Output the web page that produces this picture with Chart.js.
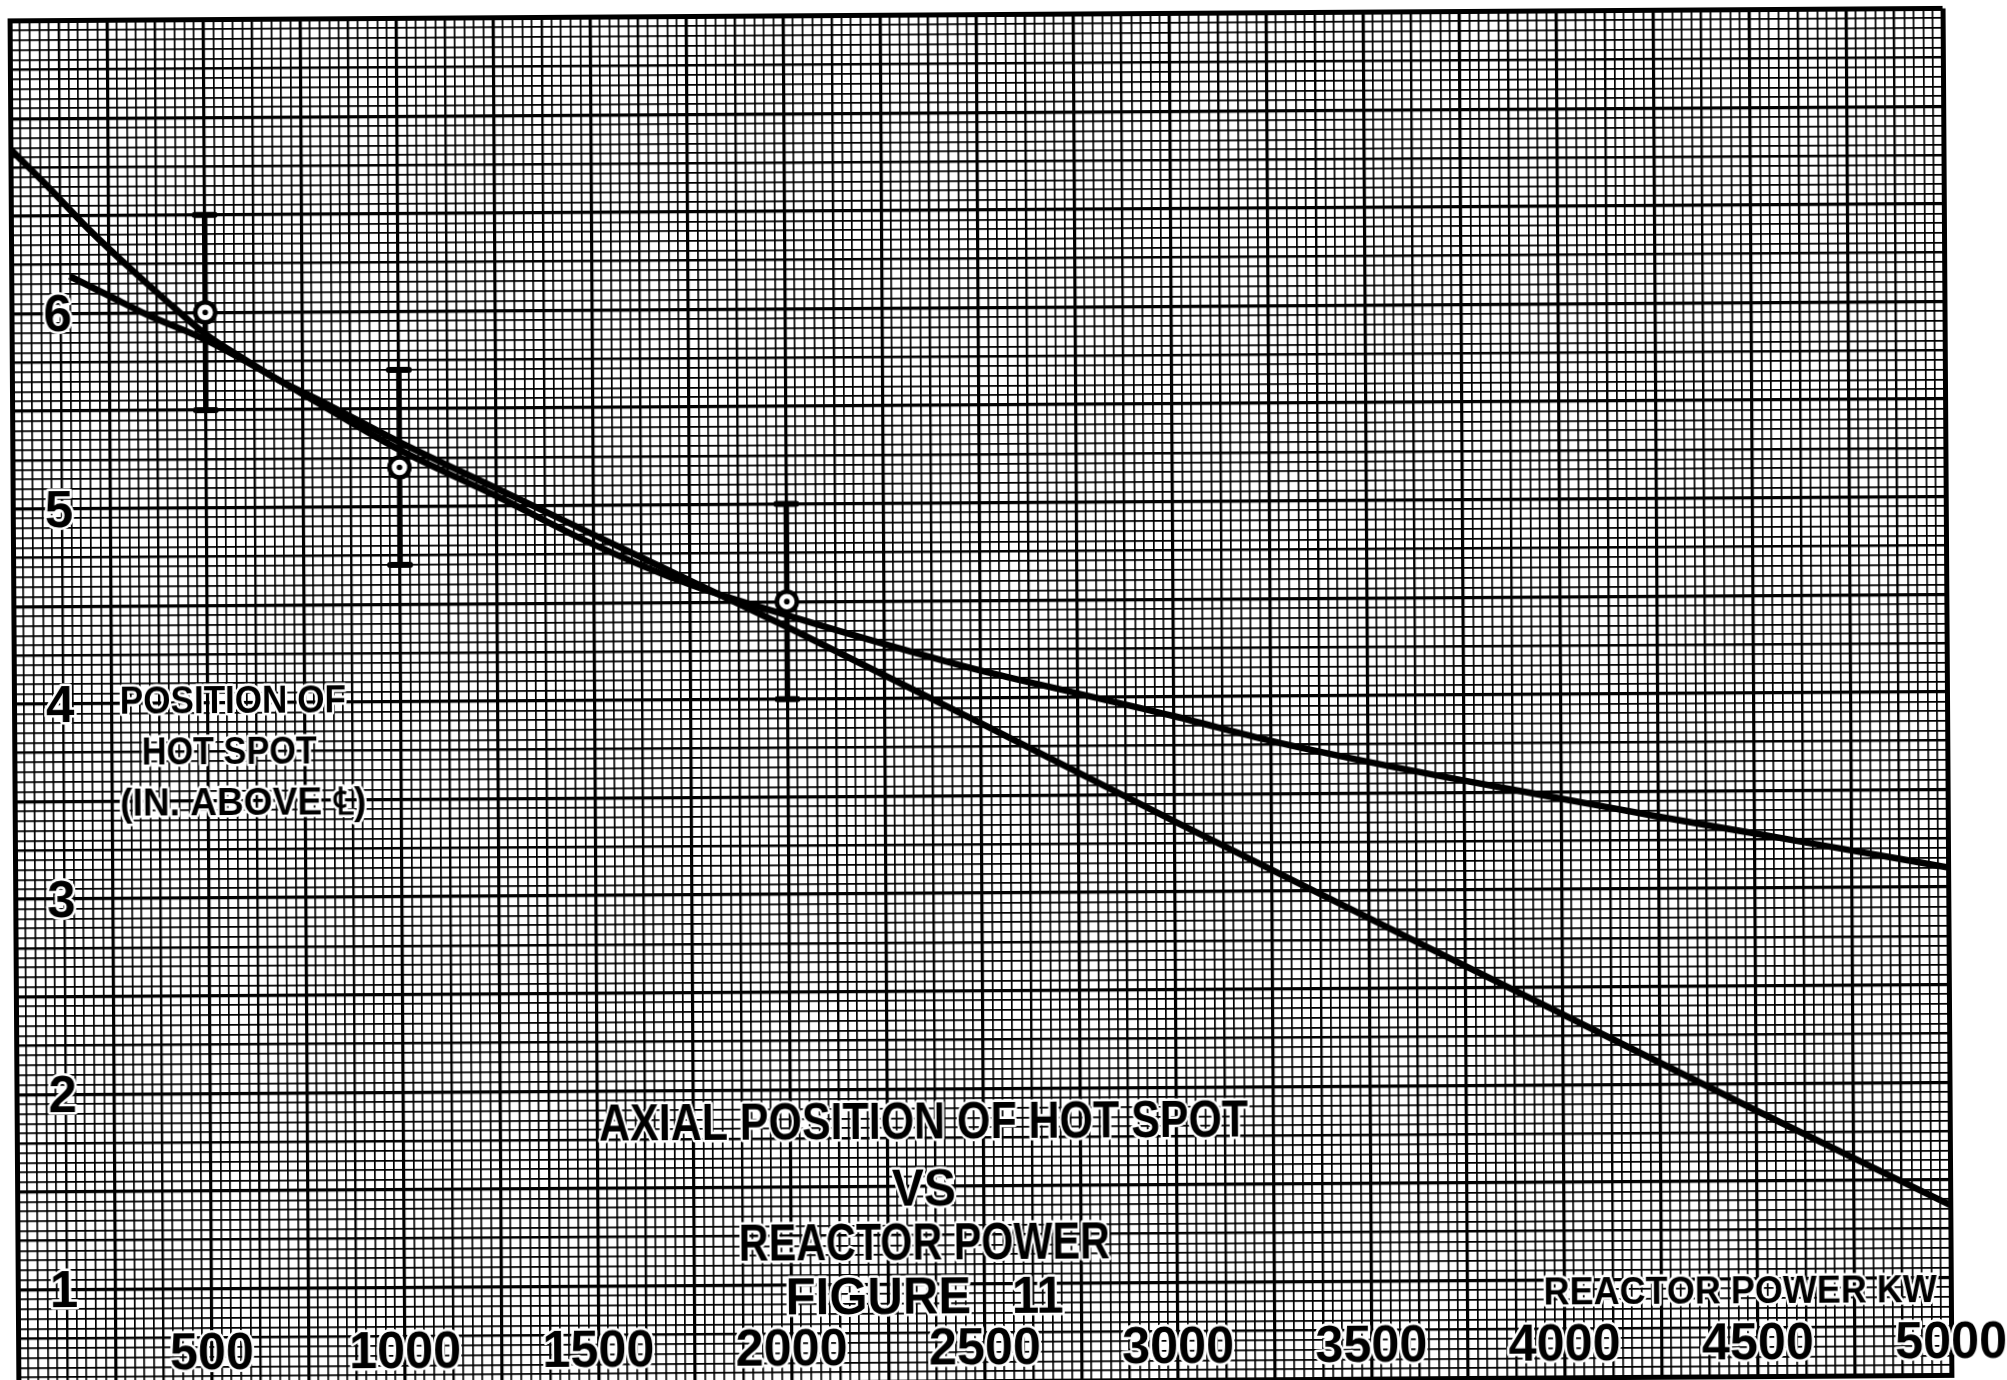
<!DOCTYPE html>
<html>
<head>
<meta charset="utf-8">
<title>Axial position of hot spot vs reactor power</title>
<script src="https://cdn.jsdelivr.net/npm/chart.js@4.4.1/dist/chart.umd.min.js"></script>
<style>
  html, body { margin: 0; padding: 0; background: #fff; overflow: hidden; }
  #wrap { width: 2007px; height: 1400px; }
  #hotSpotChart { transform: rotate(-0.37deg); transform-origin: 50% 50%; }
</style>
</head>
<body>
<div id="wrap"><canvas id="hotSpotChart" width="2007" height="1400"></canvas></div>
<script>
// steeper curve
const powerA = [0, 100, 200, 300, 400, 500, 600, 700, 800, 1000, 1250, 1500, 1750, 2000, 2500, 3000, 3500, 4000, 4500, 5000];
const posA = [6.84, 6.64, 6.43, 6.24, 6.06, 5.89, 5.76, 5.64, 5.54, 5.33, 5.09, 4.85, 4.61, 4.37, 3.87, 3.36, 2.86, 2.36, 1.86, 1.37];

// flatter curve
const powerB = [150, 250, 350, 500, 750, 1000, 1250, 1500, 1750, 2000, 2250, 2500, 2750, 3000, 3250, 3500, 3750, 4000, 4250, 4500, 4750, 5000];
const posB = [6.19, 6.09, 5.99, 5.86, 5.58, 5.29, 5.05, 4.80, 4.59, 4.43, 4.28, 4.14, 4.02, 3.90, 3.77, 3.66, 3.56, 3.465, 3.37, 3.28, 3.19, 3.10];

// measured points with error bars
const pointPower = [500, 1000, 2000];
const pointPos = [6.0, 5.2, 4.5];
const errLow = [5.5, 4.7, 4.0];
const errHigh = [6.5, 5.7, 5.0];

const xTickLabels = [500, 1000, 1500, 2000, 2500, 3000, 3500, 4000, 4500, 5000];
const yTickLabels = [1, 2, 3, 4, 5, 6];

const titleLines = ['AXIAL POSITION OF HOT SPOT', 'VS', 'REACTOR POWER', 'FIGURE   11'];
const yTitleLines = ['POSITION OF', 'HOT SPOT', '(IN. ABOVE \u2104)'];
const xTitle = 'REACTOR POWER KW';

const toXY = (xs, ys) => xs.map((x, i) => ({ x: x, y: ys[i] }));

function gridWidth(idx, last) {
  if (idx === 0 || idx === last) return 5;
  if (idx % 10 === 0) return 3.2;
  if (idx % 5 === 0) return 2.4;
  return 1.7;
}

// error bars, drawn before the rings so the rings sit on top
const errorBars = {
  id: 'errorBars',
  beforeDatasetsDraw(chart) {
    const ctx = chart.ctx;
    const xs = chart.scales.x, ys = chart.scales.y;
    ctx.save();
    ctx.strokeStyle = '#000';
    ctx.lineCap = 'round';
    pointPower.forEach((p, i) => {
      const px = xs.getPixelForValue(p);
      const top = ys.getPixelForValue(errHigh[i]);
      const bot = ys.getPixelForValue(errLow[i]);
      ctx.lineWidth = 5.5;
      ctx.beginPath();
      ctx.moveTo(px, top);
      ctx.lineTo(px, bot);
      ctx.stroke();
      ctx.lineWidth = 6;
      ctx.beginPath();
      ctx.moveTo(px - 10, top);
      ctx.lineTo(px + 10, top);
      ctx.moveTo(px - 10, bot);
      ctx.lineTo(px + 10, bot);
      ctx.stroke();
    });
    ctx.restore();
  }
};

function letter(ctx, text, x, y, w) {
  ctx.strokeText(text, x, y, w);
  ctx.fillText(text, x, y, w);
}

// lettering written on the paper
const lettering = {
  id: 'lettering',
  afterDatasetsDraw(chart) {
    const ctx = chart.ctx;
    const xs = chart.scales.x, ys = chart.scales.y;
    ctx.save();
    ctx.fillStyle = '#000';
    ctx.strokeStyle = '#fff';
    ctx.lineWidth = 5;
    ctx.lineJoin = 'round';
    ctx.textAlign = 'center';
    ctx.textBaseline = 'middle';

    ctx.font = 'bold 51px "Liberation Sans", Arial, sans-serif';
    xTickLabels.forEach(v => {
      letter(ctx, String(v), xs.getPixelForValue(v), ys.getPixelForValue(0.66), 28 * String(v).length);
    });
    yTickLabels.forEach(v => {
      letter(ctx, String(v), xs.getPixelForValue(118), ys.getPixelForValue(v) + 4);
    });

    ctx.font = 'bold 52px "Liberation Sans", Arial, sans-serif';
    const titleY = [1.82, 1.475, 1.20, 0.92];
    const titleW = [649, 64, 371, 278];
    titleLines.forEach((t, i) => {
      letter(ctx, t, xs.getPixelForValue(2345), ys.getPixelForValue(titleY[i]), titleW[i]);
    });

    ctx.font = 'bold 38px "Liberation Sans", Arial, sans-serif';
    const yTitleY = [4.0, 3.74, 3.48];
    const yTitleX = [565, 555, 590];
    const yTitleW = [226, 175, 246];
    yTitleLines.forEach((t, i) => {
      letter(ctx, t, xs.getPixelForValue(yTitleX[i]), ys.getPixelForValue(yTitleY[i]), yTitleW[i]);
    });

    letter(ctx, xTitle, xs.getPixelForValue(4455), ys.getPixelForValue(0.93), 393);
    ctx.restore();
  }
};

const ctx = document.getElementById('hotSpotChart').getContext('2d');

// dataset 0 is painted last, so the point marks come first
const hotSpotChart = new Chart(ctx, {
  type: 'scatter',
  data: {
    datasets: [
      {
        label: 'Measured centre',
        data: toXY(pointPower, pointPos),
        showLine: false,
        pointRadius: 2.8,
        pointBorderWidth: 0,
        pointBackgroundColor: '#000'
      },
      {
        label: 'Measured',
        data: toXY(pointPower, pointPos),
        showLine: false,
        pointRadius: 10,
        pointBorderWidth: 4.5,
        pointBorderColor: '#000',
        pointBackgroundColor: '#fff'
      },
      {
        label: 'Curve A',
        data: toXY(powerA, posA),
        showLine: true,
        borderColor: '#000',
        borderWidth: 6.5,
        pointRadius: 0,
        cubicInterpolationMode: 'monotone'
      },
      {
        label: 'Curve B',
        data: toXY(powerB, posB),
        showLine: true,
        borderColor: '#000',
        borderWidth: 6.5,
        pointRadius: 0,
        cubicInterpolationMode: 'monotone'
      }
    ]
  },
  options: {
    responsive: false,
    animation: false,
    devicePixelRatio: 1,
    layout: { padding: { left: 12, right: 60, top: 10, bottom: 19 } },
    plugins: {
      legend: { display: false },
      tooltip: { enabled: false },
      title: { display: false }
    },
    scales: {
      x: {
        type: 'linear',
        min: 0,
        max: 5000,
        afterFit: scale => { scale.height = 0; },
        ticks: { stepSize: 25, display: false },
        border: { display: true, color: '#000', width: 5 },
        grid: {
          drawTicks: false,
          color: '#000',
          lineWidth: c => gridWidth(Math.round(c.tick.value / 25), 200)
        }
      },
      y: {
        type: 'linear',
        min: 0.5,
        max: 7.5,
        afterFit: scale => { scale.width = 0; },
        ticks: { stepSize: 0.05, display: false },
        border: { display: true, color: '#000', width: 5 },
        grid: {
          drawTicks: false,
          color: '#000',
          lineWidth: c => gridWidth(Math.round((c.tick.value - 0.5) * 20), 140)
        }
      }
    }
  },
  plugins: [errorBars, lettering]
});
</script>
</body>
</html>
